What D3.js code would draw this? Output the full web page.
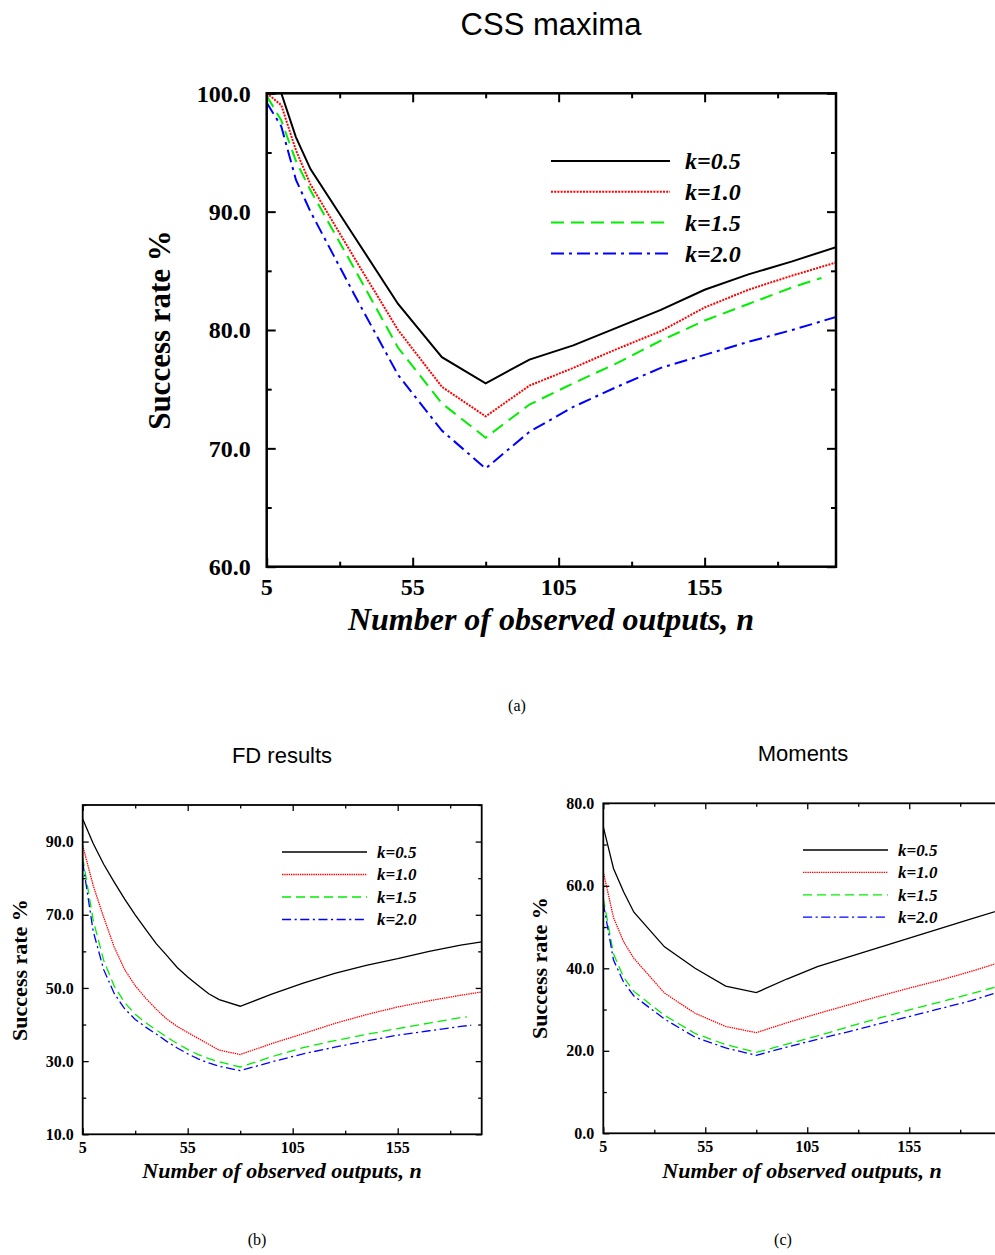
<!DOCTYPE html>
<html>
<head>
<meta charset="utf-8">
<script src="https://cdn.jsdelivr.net/npm/d3@7"></script>
<style>
	html, body { margin: 0; padding: 0; background: #fff; }
	svg { display: block; }
</style>
</head>
<body>
<script>
(function() {
	'use strict';

	// DATA //

	var legendLabels = [ 'k=0.5', 'k=1.0', 'k=1.5', 'k=2.0' ];

	// (a) CSS maxima:
	var nCSS = [ 5, 10, 15, 20, 35, 50, 65, 80, 95, 110, 125, 140, 155, 170, 185, 200 ];
	var cssK05 = [ 100.0, 100.0, 96.3, 93.6, 87.9, 82.2, 77.7, 75.5, 77.5, 78.7, 80.2, 81.7, 83.4, 84.7, 85.8, 87.0 ];
	var cssK10 = [ 100.0, 99.0, 95.2, 92.3, 86.1, 80.0, 75.2, 72.7, 75.3, 76.8, 78.4, 79.9, 81.9, 83.4, 84.6, 85.7 ];
	var cssK15 = [ 99.8, 97.7, 94.3, 91.8, 85.2, 78.5, 73.8, 70.9, 73.7, 75.5, 77.2, 79.1, 80.8, 82.2, 83.6, null ];
	var cssK20 = [ 99.2, 97.2, 92.7, 90.0, 83.0, 76.2, 71.5, 68.3, 71.4, 73.5, 75.2, 76.8, 77.9, 79.0, 80.0, 81.1 ];
	var cssTail15 = [ 195, 84.4 ];

	// (b) FD results:
	var nFD = [ 5, 10, 15, 20, 25, 30, 35, 40, 45, 50, 55, 60, 65, 70, 80, 95, 110, 125, 140, 155, 170, 185, 195 ];
	var fdK05 = [ 96.2, 89.5, 83.8, 78.9, 74.3, 70.0, 66.0, 62.1, 58.9, 55.6, 53.0, 50.7, 48.4, 46.8, 45.0, 48.3, 51.3, 54.0, 56.2, 58.0, 60.0, 61.7, 62.6 ];
	var fdK10 = [ 88.9, 78.0, 69.3, 61.2, 55.0, 50.6, 47.2, 44.2, 41.5, 39.5, 37.8, 36.2, 34.6, 33.0, 31.8, 34.8, 37.5, 40.3, 42.7, 44.8, 46.5, 48.0, 48.9 ];
	var fdK15 = [ 85.7, 68.5, 57.5, 50.5, 46.0, 42.8, 40.5, 38.5, 36.6, 34.8, 33.2, 31.8, 30.7, 29.8, 28.4, 31.2, 33.7, 35.6, 37.3, 38.9, 40.4, 41.9, null ];
	var fdK20 = [ 84.4, 65.5, 55.0, 48.5, 44.3, 41.4, 39.3, 37.4, 35.4, 33.6, 32.0, 30.6, 29.5, 28.6, 27.4, 29.8, 32.0, 33.8, 35.5, 37.1, 38.3, 39.5, null ];
	var fdTail15 = [ 188, 42.1 ];
	var fdTail20 = [ 190, 39.8 ];

	// (c) Moments:
	var nMom = [ 5, 10, 15, 20, 35, 50, 65, 80, 95, 110, 125, 140, 155, 170, 185, 200 ];
	var momK05 = [ 74.3, 64.2, 58.5, 53.6, 45.2, 40.0, 35.7, 34.1, 37.4, 40.4, 42.7, 45.0, 47.3, 49.6, 51.9, 54.2 ];
	var momK10 = [ 63.4, 52.3, 46.4, 42.4, 34.0, 29.1, 25.9, 24.4, 26.8, 29.0, 31.1, 33.2, 35.2, 37.1, 39.2, 41.5 ];
	var momK15 = [ 57.0, 43.5, 37.8, 34.4, 28.6, 24.2, 21.5, 19.6, 21.6, 23.6, 25.8, 27.9, 29.9, 31.8, 33.8, 35.8 ];
	var momK20 = [ 55.8, 42.0, 36.6, 33.3, 27.7, 23.3, 20.7, 18.9, 20.9, 22.8, 24.6, 26.5, 28.3, 30.2, 32.1, 34.4 ];

	// Tick labels:
	var xTicks = [ 5, 55, 105, 155 ];
	var xMinor = [ 30, 80, 130, 180 ];
	var yTicksCSS = [ 60, 70, 80, 90, 100 ];
	var yMinorCSS = [ 65, 75, 85, 95 ];
	var yTicksFD = [ 10, 30, 50, 70, 90 ];
	var yMinorFD = [ 20, 40, 60, 80, 100 ];
	var yTicksMom = [ 0, 20, 40, 60, 80 ];
	var yMinorMom = [ 10, 30, 50, 70 ];


	// STYLES //

	var SERIF = '"Liberation Serif", "Times New Roman", serif',
		SANS = '"Liberation Sans", Arial, sans-serif',
		colors = [ '#000000', '#ff0000', '#00ee00', '#0000ff' ];

	function dashes( s ) {
		return [
			null,
			(2*s) + ',' + (1.2*s),
			(13*s) + ',' + (7*s),
			(13*s) + ',' + (5*s) + ',' + (3*s) + ',' + (5*s)
		];
	}


	// FIGURE //

	var svg = d3.select( 'body' ).append( 'svg' )
		.attr( 'width', 995 )
		.attr( 'height', 1255 );

	function zip( xs, ys, tail ) {
		var out = [], i;
		for ( i = 0; i < xs.length; i++ ) {
			if ( ys[ i ] !== null ) {
				out.push( [ xs[ i ], ys[ i ] ] );
			}
		}
		if ( tail ) {
			out.push( tail );
		}
		return out;
	}

	/**
	* FUNCTION: panel( cfg )
	*	Draws one framed line chart.
	*/
	function panel( cfg ) {
		var g = svg.append( 'g' ),
			x = d3.scaleLinear().domain( cfg.xDomain ).range( [ cfg.left, cfg.right ] ),
			y = d3.scaleLinear().domain( cfg.yDomain ).range( [ cfg.bottom, cfg.top ] ),
			s = cfg.scale,
			w = cfg.right - cfg.left,
			h = cfg.bottom - cfg.top,
			dash = dashes( s ),
			line;

		// Clip lines to plotting area:
		g.append( 'clipPath' )
			.attr( 'id', cfg.id )
		  .append( 'rect' )
			.attr( 'x', cfg.left )
			.attr( 'y', cfg.top - 2 )
			.attr( 'width', w )
			.attr( 'height', h + 2 );

		// Axes (ticks pointing inward on every side):
		function axis( gen, tr, vals, size ) {
			g.append( 'g' )
				.attr( 'transform', tr )
				.call( gen.tickValues( vals ).tickSize( size ).tickFormat( '' ) )
				.call( function( a ) {
					a.select( '.domain' ).remove();
					a.selectAll( 'line' ).attr( 'stroke', '#000' ).attr( 'stroke-width', cfg.tickWidth );
				});
		}
		axis( d3.axisTop( x ), 'translate(0,' + cfg.bottom + ')', xTicks, cfg.major );
		axis( d3.axisTop( x ), 'translate(0,' + cfg.bottom + ')', xMinor, cfg.minor );
		axis( d3.axisBottom( x ), 'translate(0,' + cfg.top + ')', xTicks, cfg.major );
		axis( d3.axisBottom( x ), 'translate(0,' + cfg.top + ')', xMinor, cfg.minor );
		axis( d3.axisRight( y ), 'translate(' + cfg.left + ',0)', cfg.yTicks, cfg.major );
		axis( d3.axisRight( y ), 'translate(' + cfg.left + ',0)', cfg.yMinor, cfg.minor );
		axis( d3.axisLeft( y ), 'translate(' + cfg.right + ',0)', cfg.yTicks, cfg.major );
		axis( d3.axisLeft( y ), 'translate(' + cfg.right + ',0)', cfg.yMinor, cfg.minor );

		// Tick labels:
		g.selectAll( 'text.xl' )
			.data( xTicks )
		  .enter().append( 'text' )
			.attr( 'x', function( d ) { return x( d ); } )
			.attr( 'y', cfg.bottom + cfg.xLabelDy )
			.attr( 'text-anchor', 'middle' )
			.style( 'font', 'bold ' + cfg.tickFont + 'px ' + SERIF )
			.text( function( d ) { return d; } );
		g.selectAll( 'text.yl' )
			.data( cfg.yTicks )
		  .enter().append( 'text' )
			.attr( 'x', cfg.left - cfg.yLabelDx )
			.attr( 'y', function( d ) { return y( d ); } )
			.attr( 'dy', '0.35em' )
			.attr( 'text-anchor', 'end' )
			.style( 'font', 'bold ' + cfg.tickFont + 'px ' + SERIF )
			.text( function( d ) { return d3.format( '.1f' )( d ); } );

		// Series:
		line = d3.line()
			.x( function( d ) { return x( d[ 0 ] ); } )
			.y( function( d ) { return y( d[ 1 ] ); } );
		cfg.series.forEach( function( ser, i ) {
			g.append( 'path' )
				.datum( ser )
				.attr( 'clip-path', 'url(#' + cfg.id + ')' )
				.attr( 'fill', 'none' )
				.attr( 'stroke', colors[ i ] )
				.attr( 'stroke-width', cfg.lineWidth )
				.attr( 'stroke-dasharray', dash[ i ] )
				.attr( 'd', line );
		});

		// Frame:
		g.append( 'rect' )
			.attr( 'x', cfg.left )
			.attr( 'y', cfg.top )
			.attr( 'width', w )
			.attr( 'height', h )
			.attr( 'fill', 'none' )
			.attr( 'stroke', '#000' )
			.attr( 'stroke-width', cfg.frameWidth );

		// Legend:
		legendLabels.forEach( function( lab, i ) {
			var ly = cfg.legend.y + i*cfg.legend.step;
			g.append( 'line' )
				.attr( 'x1', cfg.legend.x1 )
				.attr( 'x2', cfg.legend.x2 )
				.attr( 'y1', ly )
				.attr( 'y2', ly )
				.attr( 'stroke', colors[ i ] )
				.attr( 'stroke-width', cfg.lineWidth )
				.attr( 'stroke-dasharray', dash[ i ] );
			g.append( 'text' )
				.attr( 'x', cfg.legend.tx )
				.attr( 'y', ly )
				.attr( 'dy', '0.35em' )
				.style( 'font', 'italic bold ' + cfg.legend.font + 'px ' + SERIF )
				.text( lab );
		});

		// Titles:
		g.append( 'text' )
			.attr( 'x', cfg.title.x )
			.attr( 'y', cfg.title.y )
			.attr( 'text-anchor', 'middle' )
			.style( 'font', cfg.title.font + 'px ' + SANS )
			.text( cfg.title.text );
		g.append( 'text' )
			.attr( 'transform', 'translate(' + cfg.yTitle.x + ',' + cfg.yTitle.y + ') rotate(-90)' )
			.attr( 'text-anchor', 'middle' )
			.style( 'font', 'bold ' + cfg.yTitle.font + 'px ' + SERIF )
			.text( 'Success rate %' );
		g.append( 'text' )
			.attr( 'x', cfg.xTitle.x )
			.attr( 'y', cfg.xTitle.y )
			.attr( 'text-anchor', 'middle' )
			.style( 'font', 'italic bold ' + cfg.xTitle.font + 'px ' + SERIF )
			.text( 'Number of observed outputs, n' );
		g.append( 'text' )
			.attr( 'x', cfg.caption.x )
			.attr( 'y', cfg.caption.y )
			.attr( 'text-anchor', 'middle' )
			.style( 'font', '16px ' + SERIF )
			.text( cfg.caption.text );
	} // end FUNCTION panel()


	// PANELS //

	panel({
		id: 'clipA',
		left: 266.7, right: 836, top: 93.3, bottom: 566.7,
		xDomain: [ 5, 200 ], yDomain: [ 60, 100 ],
		yTicks: yTicksCSS, yMinor: yMinorCSS,
		scale: 1, lineWidth: 2, frameWidth: 2.5, tickWidth: 2,
		major: 9, minor: 5,
		tickFont: 24, xLabelDy: 28, yLabelDx: 16,
		series: [
			zip( nCSS, cssK05 ), zip( nCSS, cssK10 ), zip( nCSS, cssK15, cssTail15 ), zip( nCSS, cssK20 )
		],
		legend: { x1: 551, x2: 670, y: 161, step: 30.8, tx: 685, font: 24 },
		title: { x: 551, y: 35, font: 31, text: 'CSS maxima' },
		yTitle: { x: 170, y: 330, font: 31 },
		xTitle: { x: 551, y: 630, font: 32 },
		caption: { x: 517, y: 711, text: '(a)' }
	});

	panel({
		id: 'clipB',
		left: 82.7, right: 481.7, top: 805, bottom: 1134.3,
		xDomain: [ 5, 195 ], yDomain: [ 10, 100 ],
		yTicks: yTicksFD, yMinor: yMinorFD,
		scale: 0.7, lineWidth: 1.3, frameWidth: 1.8, tickWidth: 1.3,
		major: 6, minor: 3.5,
		tickFont: 16, xLabelDy: 19, yLabelDx: 9,
		series: [
			zip( nFD, fdK05 ), zip( nFD, fdK10 ), zip( nFD, fdK15, fdTail15 ), zip( nFD, fdK20, fdTail20 )
		],
		legend: { x1: 282, x2: 367, y: 852, step: 22.5, tx: 377, font: 17 },
		title: { x: 282, y: 763, font: 22, text: 'FD results' },
		yTitle: { x: 27, y: 970, font: 22 },
		xTitle: { x: 282, y: 1178, font: 22 },
		caption: { x: 257, y: 1245, text: '(b)' }
	});

	panel({
		id: 'clipC',
		left: 603.3, right: 1001, top: 803.3, bottom: 1133.3,
		xDomain: [ 5, 200 ], yDomain: [ 0, 80 ],
		yTicks: yTicksMom, yMinor: yMinorMom,
		scale: 0.7, lineWidth: 1.3, frameWidth: 1.8, tickWidth: 1.3,
		major: 6, minor: 3.5,
		tickFont: 16, xLabelDy: 19, yLabelDx: 9,
		series: [
			zip( nMom, momK05 ), zip( nMom, momK10 ), zip( nMom, momK15 ), zip( nMom, momK20 )
		],
		legend: { x1: 803, x2: 888, y: 850, step: 22.4, tx: 898, font: 17 },
		title: { x: 803, y: 761, font: 22, text: 'Moments' },
		yTitle: { x: 547, y: 968, font: 22 },
		xTitle: { x: 802, y: 1178, font: 22 },
		caption: { x: 783, y: 1245, text: '(c)' }
	});

})();
</script>
</body>
</html>
